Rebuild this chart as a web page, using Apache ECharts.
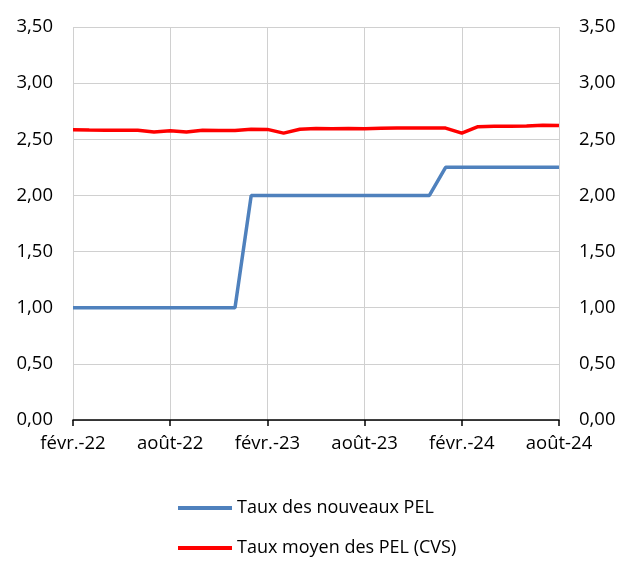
<!DOCTYPE html>
<html><head><meta charset="utf-8">
<script src="https://cdn.jsdelivr.net/npm/echarts@6/dist/echarts.min.js"></script>
<style>html,body{margin:0;padding:0;background:#fff}#c{width:628px;height:563px}</style>
</head><body><div id="c"></div>
<script>
var categories = ['févr.-22','mars-22','avr.-22','mai-22','juin-22','juil.-22','août-22','sept.-22','oct.-22','nov.-22','déc.-22',
  'janv.-23','févr.-23','mars-23','avr.-23','mai-23','juin-23','juil.-23','août-23','sept.-23','oct.-23','nov.-23','déc.-23',
  'janv.-24','févr.-24','mars-24','avr.-24','mai-24','juin-24','juil.-24','août-24'];
var nouveauxPEL = [1,1,1,1,1,1,1,1,1,1,1,
  2,2,2,2,2,2,2,2,2,2,2,2,
  2.25,2.25,2.25,2.25,2.25,2.25,2.25,2.25];
var moyenPEL = [2.585,2.582,2.58,2.58,2.58,2.565,2.575,2.565,2.58,2.578,2.578,
  2.59,2.588,2.555,2.59,2.595,2.593,2.595,2.593,2.598,2.6,2.6,2.6,
  2.6,2.555,2.612,2.615,2.617,2.618,2.625,2.623];
var seriesNames = ['Taux des nouveaux PEL','Taux moyen des PEL (CVS)'];
var yTicks = {min:0, max:3.5, interval:0.5};

var font = '"Open Sans", "Noto Sans", sans-serif';
var fmt = function(v){return v.toFixed(2).replace('.',',');};
var chart = echarts.init(document.getElementById('c'));
var yAxisBase = {
  type:'value', min:yTicks.min, max:yTicks.max, interval:yTicks.interval,
  axisLine:{show:false}, axisTick:{show:false},
  axisLabel:{formatter:fmt, color:'#000', fontSize:18.5, fontFamily:font, margin:20},
  splitLine:{lineStyle:{color:'#d0d0d0', width:1}}
};
chart.setOption({
  animation:false,
  grid:{left:73, right:69, top:27, bottom:143, containLabel:false},
  legend:{
    orient:'vertical', left:178, top:499, padding:0, itemGap:22, itemWidth:54, itemHeight:4,
    icon:'rect',
    textStyle:{color:'#000', fontSize:18, fontFamily:font, padding:[0,0,0,0]},
    data:seriesNames
  },
  xAxis:{
    type:'category', data:categories, boundaryGap:false,
    axisLine:{lineStyle:{color:'#000', width:1.5}},
    axisTick:{show:true, interval:5, length:6, lineStyle:{color:'#000', width:1.5}},
    axisLabel:{interval:5, color:'#000', fontSize:18.5, fontFamily:font, margin:14},
    splitLine:{show:true, interval:5, lineStyle:{color:'#d0d0d0', width:1}}
  },
  yAxis:[Object.assign({position:'left'}, yAxisBase), Object.assign({position:'right'}, yAxisBase)],
  series:[
    {name:seriesNames[0], type:'line', data:nouveauxPEL, symbol:'none', lineStyle:{color:'#4F81BD', width:3.5}, itemStyle:{color:'#4F81BD'}},
    {name:seriesNames[1], type:'line', data:moyenPEL, symbol:'none', lineStyle:{color:'#FF0000', width:3.5}, itemStyle:{color:'#FF0000'}}
  ]
});
</script></body></html>
